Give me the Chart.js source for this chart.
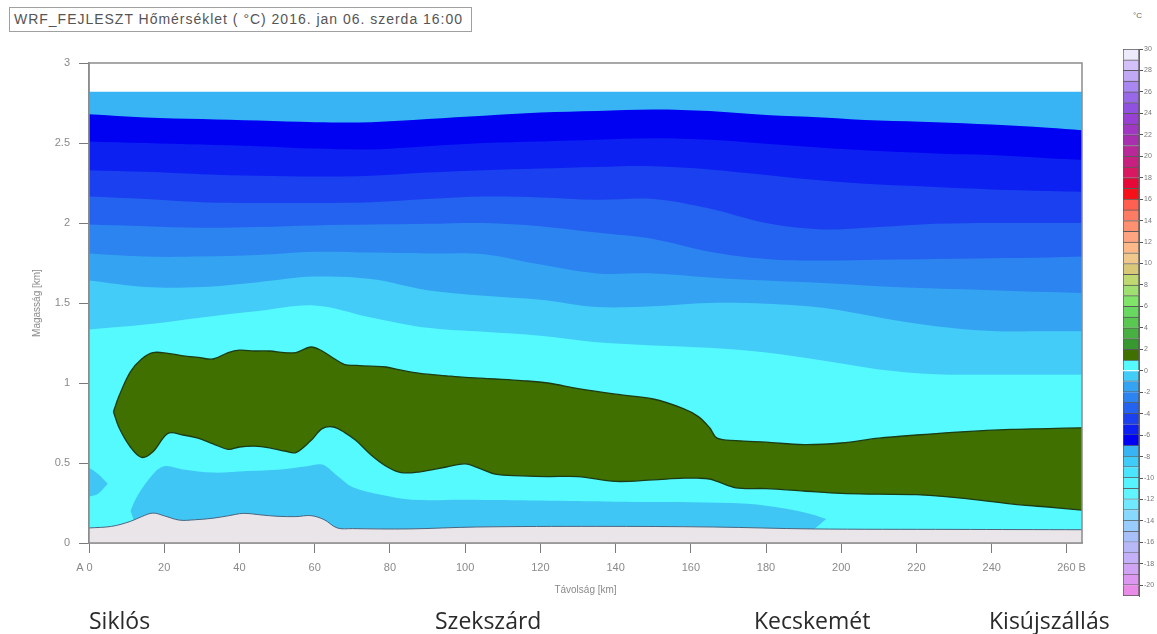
<!DOCTYPE html>
<html>
<head>
<meta charset="utf-8">
<script src="https://cdn.jsdelivr.net/npm/chart.js@4.4.1/dist/chart.umd.min.js"></script>
<style>
body { margin: 0; background: #fff; width: 1157px; height: 634px; overflow: hidden; position: relative; font-family: "Liberation Sans", Arial, sans-serif; }
#mainChart { position: absolute; left: 0; top: 0; }
#barChart { position: absolute; left: 1110px; top: 0; }
#title { position: absolute; left: 9px; top: 7px; width: 463px; height: 25px; border: 1px solid #a0a0a0; box-sizing: border-box; font-size: 14px; line-height: 23px; color: #555; white-space: nowrap; padding-left: 4px; }
#unit { position: absolute; left: 1133px; top: 11px; font-size: 8px; color: #666; }
.city { position: absolute; top: 609px; font-family: "Open Sans", sans-serif; font-size: 23px; line-height: 23px; color: #2a2a2a; white-space: nowrap; }
</style>
</head>
<body>
<div id="title"><span id="titleText">WRF_FEJLESZT Hőmérséklet ( °C) 2016. jan 06. szerda 16:00</span></div>
<div id="unit">°C</div>
<canvas id="mainChart" width="1100" height="634"></canvas>
<canvas id="barChart" width="47" height="634"></canvas>
<div class="city" style="left:89px">Siklós</div>
<div class="city" style="left:435px">Szekszárd</div>
<div class="city" style="left:754px">Kecskemét</div>
<div class="city" style="left:989px">Kisújszállás</div>
<script>
// distance along the section [km] and heights [km] of the isotherms
const distKm = [0, 15, 30, 45, 60, 75, 90, 105, 120, 135, 150, 165, 180, 195, 210, 225, 240, 255, 264];
const modelTopKm = [0, 264];
const modelTop = [2.82, 2.82];
const isoM8 = [2.68, 2.66, 2.65, 2.64, 2.63, 2.63, 2.65, 2.67, 2.69, 2.70, 2.71, 2.70, 2.675, 2.66, 2.64, 2.63, 2.615, 2.595, 2.58];
const isoM7 = [2.51, 2.50, 2.49, 2.48, 2.465, 2.46, 2.48, 2.50, 2.51, 2.52, 2.53, 2.52, 2.495, 2.47, 2.45, 2.435, 2.425, 2.405, 2.395];
const isoM6 = [2.33, 2.32, 2.305, 2.295, 2.29, 2.295, 2.315, 2.33, 2.34, 2.35, 2.355, 2.335, 2.30, 2.265, 2.24, 2.225, 2.21, 2.2, 2.195];
const isoM5 = [2.165, 2.15, 2.13, 2.125, 2.125, 2.13, 2.15, 2.165, 2.16, 2.145, 2.15, 2.09, 2.0, 1.96, 1.975, 1.995, 2.0, 2.0, 2.0];
const isoM4 = [1.99, 1.98, 1.97, 1.975, 1.985, 1.99, 1.995, 2.0, 1.98, 1.94, 1.90, 1.82, 1.775, 1.765, 1.77, 1.775, 1.78, 1.785, 1.79];
const isoM3 = [1.81, 1.79, 1.79, 1.80, 1.82, 1.815, 1.81, 1.805, 1.74, 1.685, 1.685, 1.66, 1.64, 1.625, 1.605, 1.59, 1.58, 1.568, 1.562];
const isoM2 = [1.64, 1.60, 1.60, 1.63, 1.665, 1.65, 1.58, 1.545, 1.52, 1.475, 1.48, 1.50, 1.495, 1.47, 1.41, 1.355, 1.325, 1.323, 1.323];
const isoM1 = [1.335, 1.365, 1.41, 1.45, 1.485, 1.41, 1.345, 1.32, 1.295, 1.255, 1.235, 1.22, 1.19, 1.14, 1.085, 1.055, 1.052, 1.052, 1.052];

// warm (0..1 °C) layer
const warmKm = [6.5, 8, 11, 14, 17, 21, 25, 29, 33, 37, 40, 44, 48, 52, 55, 59, 62, 65, 68, 71, 75, 79, 83, 88, 95, 100, 104, 108, 115, 122, 130, 140, 150, 158, 162, 165, 167, 172, 180, 190, 200, 210, 220, 232, 245, 255, 264];
const warmTop = [0.82, 0.92, 1.07, 1.15, 1.19, 1.185, 1.17, 1.16, 1.15, 1.19, 1.205, 1.2, 1.2, 1.19, 1.19, 1.225, 1.2, 1.155, 1.115, 1.11, 1.105, 1.1, 1.08, 1.06, 1.045, 1.035, 1.03, 1.025, 1.015, 1.0, 0.965, 0.93, 0.9, 0.84, 0.79, 0.72, 0.655, 0.64, 0.63, 0.615, 0.625, 0.655, 0.675, 0.695, 0.71, 0.715, 0.72];
const warmBottom = [0.82, 0.72, 0.6, 0.535, 0.57, 0.685, 0.675, 0.655, 0.62, 0.585, 0.6, 0.605, 0.595, 0.575, 0.565, 0.64, 0.715, 0.725, 0.69, 0.64, 0.55, 0.48, 0.44, 0.445, 0.475, 0.495, 0.465, 0.43, 0.42, 0.415, 0.415, 0.385, 0.395, 0.405, 0.405, 0.4, 0.385, 0.345, 0.34, 0.325, 0.31, 0.305, 0.302, 0.28, 0.245, 0.225, 0.205];

// colder pockets near the ground
const pocketKm = [0, 2.5, 5];
const pocketTop = [0.47, 0.43, 0.37];
const pocketBottom = [0.29, 0.31, 0.37];
const lowKm = [11, 13, 17, 20, 25, 33, 42, 51, 58, 62, 66, 70, 78, 86, 100, 120, 140, 160, 175, 185, 192, 196];
const lowTop = [0.2, 0.3, 0.43, 0.48, 0.46, 0.44, 0.45, 0.46, 0.48, 0.49, 0.42, 0.35, 0.3, 0.27, 0.27, 0.265, 0.258, 0.255, 0.245, 0.215, 0.18, 0.15];
const lowBottom = [0.2, 0.1, 0.05, 0.05, 0.05, 0.05, 0.05, 0.05, 0.05, 0.05, 0.05, 0.05, 0.05, 0.05, 0.05, 0.05, 0.05, 0.05, 0.05, 0.06, 0.08, 0.15];

// terrain
const terrainKm = [0, 6, 11, 14, 17, 20, 24, 28, 33, 37, 41, 46, 50, 55, 59, 62.5, 66, 70, 85, 103, 135, 166, 192, 230, 264];
const terrainH = [0.094, 0.104, 0.135, 0.165, 0.187, 0.17, 0.143, 0.145, 0.155, 0.17, 0.185, 0.175, 0.167, 0.165, 0.171, 0.146, 0.094, 0.09, 0.088, 0.1, 0.104, 0.1, 0.088, 0.085, 0.083];

// colour scale: lower edge of each 1 °C cell and its colour
const cbarLow = [-21, -20, -19, -18, -17, -16, -15, -14, -13, -12, -11, -10, -9, -8, -7, -6, -5, -4, -3, -2, -1, 0, 1, 2, 3, 4, 5, 6, 7, 8, 9, 10, 11, 12, 13, 14, 15, 16, 17, 18, 19, 20, 21, 22, 23, 24, 25, 26, 27, 28, 29];
const cbarColors = ['#e88ce8', '#dc98f0', '#d0a4f4', '#c4b0f8', '#b8b8f8', '#a8c0fa', '#98ccfc', '#88d8fe', '#70e8ff', '#60f4ff', '#55f4ff', '#4ae4fc', '#40ccf8', '#38b4f4',
  '#0000f2', '#0c20f2', '#1a40f0', '#2462f0', '#2c84f0', '#34a4f2', '#44ccf8', '#55faff',
  '#3f7000', '#389830', '#48b040', '#58c850', '#68d860', '#80e468', '#a0e070', '#c0d870', '#d8c878', '#f0c88c',
  '#ffb888', '#ffa480', '#ff9070', '#ff7c64', '#ff6050', '#f81018', '#e80838', '#d81860', '#c82080', '#b82898',
  '#a830b0', '#a038c4', '#9840d4', '#9050e0', '#9868e8', '#a888f0', '#c0a8f4', '#d4c0f8', '#ecebfc', '#ffffff'];

const pts = (xs, ys) => xs.map((x, i) => ({x: x, y: ys[i]}));

const layers = [];
const band = (xs, ys, color) => layers.push({data: pts(xs, ys), fill: 'start', backgroundColor: color, borderWidth: 0});
band(modelTopKm, modelTop, '#38b4f4');
band(distKm, isoM8, '#0000f2');
band(distKm, isoM7, '#0c20f2');
band(distKm, isoM6, '#1a40f0');
band(distKm, isoM5, '#2462f0');
band(distKm, isoM4, '#2c84f0');
band(distKm, isoM3, '#34a4f2');
band(distKm, isoM2, '#44ccf8');
band(distKm, isoM1, '#55faff');

const pair = (xs, top, bottom, color, line) => {
    const i = layers.length;
    layers.push({data: pts(xs, top), fill: i + 1, backgroundColor: color, borderColor: line || color, borderWidth: line ? 1.3 : 0});
    layers.push({data: pts(xs, bottom), fill: false, borderColor: line || color, borderWidth: line ? 1.3 : 0});
};
pair(pocketKm, pocketTop, pocketBottom, '#40c6f5');
pair(lowKm, lowTop, lowBottom, '#40c6f5');
pair(warmKm, warmTop, warmBottom, '#3f7000', '#1c3c14');

layers.push({data: pts(terrainKm, terrainH), fill: 'start', backgroundColor: '#e9e5e8', borderColor: '#4a6680', borderWidth: 1});

layers.forEach((d, i) => {
    d.order = layers.length - i;
    d.pointRadius = 0;
    d.tension = 0.35;
});

const framePlugin = {
    id: 'frame',
    afterDatasetsDraw(chart) {
        const {ctx, chartArea: a} = chart;
        ctx.save();
        ctx.strokeStyle = '#8c8c8c';
        ctx.lineWidth = 1.5;
        ctx.strokeRect(a.left, a.top, a.right - a.left, a.bottom - a.top);
        ctx.restore();
    }
};

const tickFont = {family: 'Liberation Sans', size: 11};
const grey = '#8a8a8a';

new Chart(document.getElementById('mainChart'), {
    type: 'line',
    data: {datasets: layers},
    options: {
        responsive: false,
        animation: false,
        layout: {padding: {top: 63, right: 18, bottom: 0, left: 0}},
        plugins: {legend: {display: false}, tooltip: {enabled: false}},
        scales: {
            x: {
                type: 'linear', min: 0, max: 264,
                ticks: {stepSize: 20, includeBounds: false, color: grey, font: tickFont, padding: 8, maxRotation: 0,
                    callback: v => v === 0 ? 'A 0   ' : v === 260 ? '   260 B' : String(v)},
                grid: {drawOnChartArea: false, tickLength: 10, color: '#7a7a7a'},
                border: {color: '#8c8c8c', width: 1.5},
                title: {display: true, text: 'Távolság [km]', color: grey, font: {family: 'Liberation Sans', size: 10}, padding: {top: 0, bottom: 38}},
                afterFit: s => { s.height = 91; }
            },
            y: {
                type: 'linear', min: 0, max: 3,
                ticks: {stepSize: 0.5, color: grey, font: tickFont, padding: 9, callback: v => String(v)},
                grid: {drawOnChartArea: false, tickLength: 10, color: '#7a7a7a'},
                border: {color: '#8c8c8c', width: 1.5},
                title: {display: true, text: 'Magasság [km]', color: grey, font: {family: 'Liberation Sans', size: 10}, padding: {top: 31, bottom: 0}},
                afterFit: s => { s.width = 89; }
            }
        }
    },
    plugins: [framePlugin]
});

new Chart(document.getElementById('barChart'), {
    type: 'bar',
    data: {
        labels: [''],
        datasets: cbarLow.map((v, i) => ({
            data: [[v, v + 1]],
            backgroundColor: cbarColors[i],
            borderColor: '#5a5a5a',
            borderWidth: 1,
            borderSkipped: 'start',
            grouped: false,
            barPercentage: 1,
            categoryPercentage: 1
        }))
    },
    options: {
        responsive: false,
        animation: false,
        layout: {padding: {left: 13, top: 49, bottom: 38, right: 0}},
        plugins: {legend: {display: false}, tooltip: {enabled: false}},
        scales: {
            x: {display: false},
            y: {
                position: 'right', min: -21, max: 30,
                ticks: {stepSize: 2, includeBounds: false, color: '#777', font: {family: 'Liberation Sans', size: 7}, padding: 1},
                grid: {drawOnChartArea: false, tickLength: 4, color: '#555'},
                border: {color: '#666'},
                afterFit: s => { s.width = 18; }
            }
        }
    }
});

const t = document.getElementById('titleText');
const w = t.getBoundingClientRect().width;
t.style.letterSpacing = ((449 - w) / t.textContent.length) + 'px';
</script>
</body>
</html>
